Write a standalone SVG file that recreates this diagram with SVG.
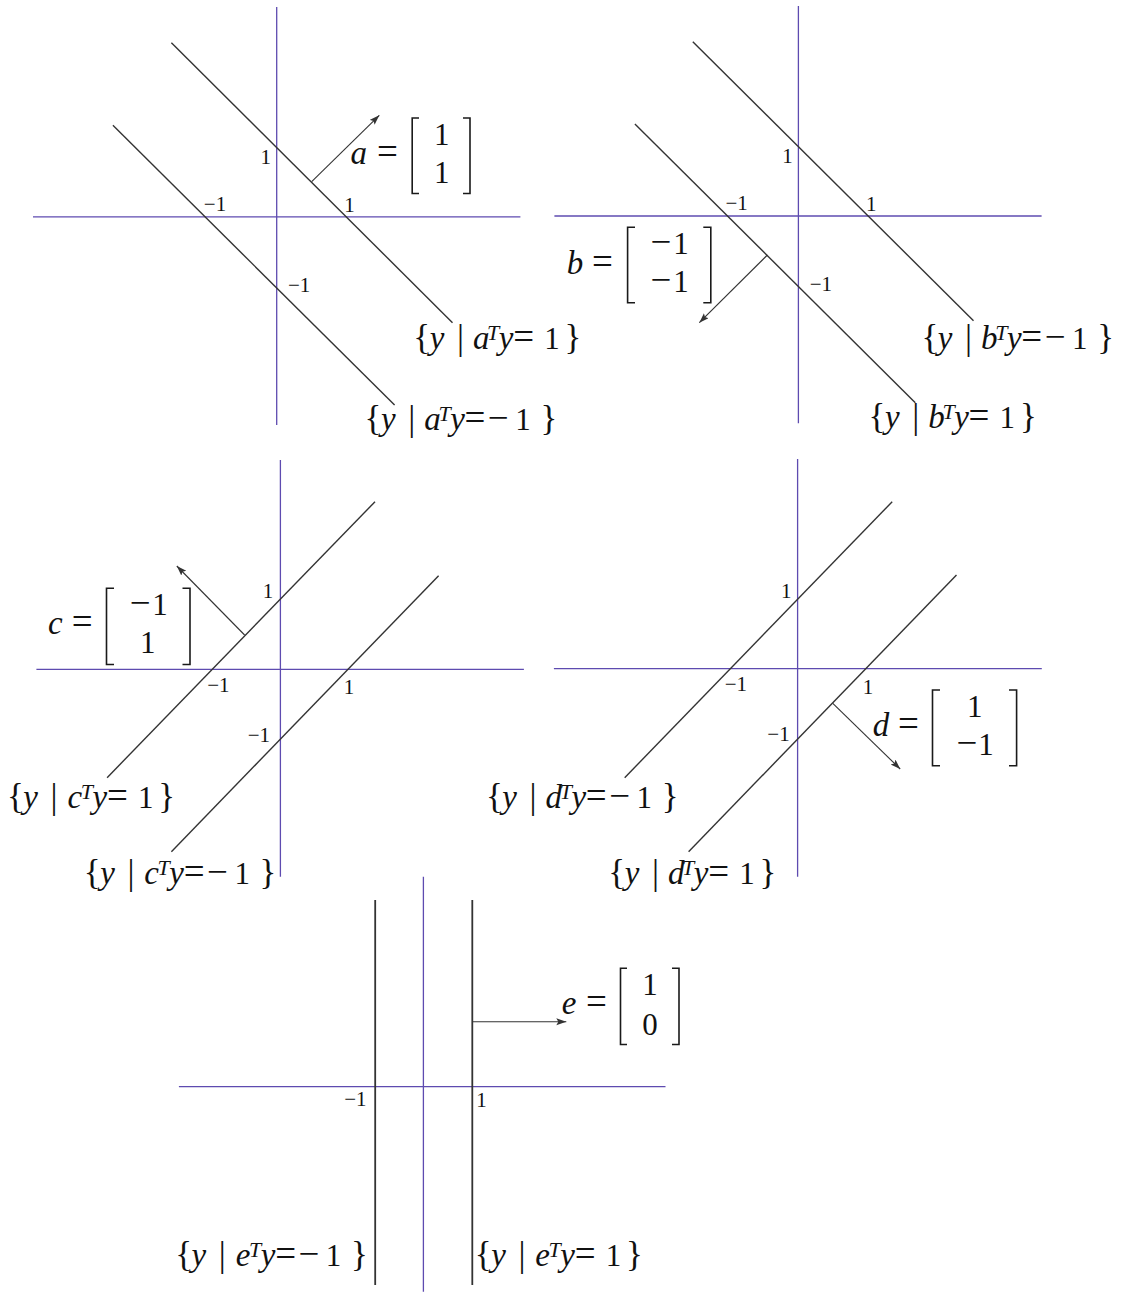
<svg xmlns="http://www.w3.org/2000/svg" width="1121" height="1292" viewBox="0 0 1121 1292">
<style>
.ax{stroke:#5e4bb0;stroke-width:1.3;fill:none}
.ln{stroke:#333;stroke-width:1.4;fill:none}
.lnE{stroke:#333;stroke-width:1.8;fill:none}
.ar{stroke:#333;stroke-width:1.1;fill:none;marker-end:url(#ah)}
.br{stroke:#1a1a1a;stroke-width:1.6;fill:none}
.m{font-family:"Liberation Serif","Times New Roman",serif;font-size:31px;fill:#111;text-anchor:middle}
.i{font-style:italic;font-size:33px}
.op{font-size:37px}
.bc{font-size:35px}
.sup{font-size:22px;font-style:italic}
.s{font-family:"Liberation Serif","Times New Roman",serif;font-size:21px;fill:#111;text-anchor:middle}
</style>
<defs>
<marker id="ah" markerWidth="11" markerHeight="8" refX="10" refY="3.5" orient="auto" markerUnits="userSpaceOnUse"><path d="M0,0 L10,3.5 L0,7 L2,3.5 z" fill="#333"/></marker>
</defs>
<rect width="1121" height="1292" fill="#fff"/>

<g id="connectors">
<line class="ax" x1="276.7" y1="7" x2="276.7" y2="425"/>
<line class="ax" x1="33" y1="216.8" x2="520.4" y2="216.8"/>
<line class="ln" x1="171.4" y1="42.7" x2="452.5" y2="322.7"/>
<line class="ln" x1="112.9" y1="125.3" x2="394.6" y2="405"/>
<line class="ar" x1="311.7" y1="181.7" x2="379.3" y2="115.3"/>
<line class="ax" x1="798.4" y1="6" x2="798.4" y2="423.3"/>
<line class="ax" x1="554.4" y1="216" x2="1041.6" y2="216"/>
<line class="ln" x1="692.8" y1="41.7" x2="973.5" y2="320.7"/>
<line class="ln" x1="634.9" y1="124" x2="915.3" y2="402.7"/>
<line class="ar" x1="767.4" y1="255" x2="699.3" y2="322.7"/>
<line class="ax" x1="280.4" y1="460" x2="280.4" y2="876.7"/>
<line class="ax" x1="36.4" y1="669.3" x2="523.9" y2="669.3"/>
<line class="ln" x1="107.1" y1="777.7" x2="375" y2="501.7"/>
<line class="ln" x1="171.4" y1="851.7" x2="438.6" y2="575.7"/>
<line class="ar" x1="244.6" y1="635" x2="176.8" y2="566"/>
<line class="ax" x1="797.6" y1="459" x2="797.6" y2="876.7"/>
<line class="ax" x1="553.9" y1="668.7" x2="1041.8" y2="668.7"/>
<line class="ln" x1="624.7" y1="777.7" x2="892.2" y2="501.7"/>
<line class="ln" x1="688.6" y1="851.7" x2="956.5" y2="575"/>
<line class="ar" x1="832.8" y1="703.3" x2="900.2" y2="769"/>
<line class="ax" x1="423.4" y1="876.7" x2="423.4" y2="1291.7"/>
<line class="ax" x1="178.9" y1="1086.7" x2="665.5" y2="1086.7"/>
<line class="lnE" x1="375.2" y1="900" x2="375.2" y2="1285"/>
<line class="lnE" x1="472.3" y1="900" x2="472.3" y2="1285"/>
<line class="ar" x1="472.3" y1="1021.7" x2="566.3" y2="1021.7"/>
</g>

<g id="panelA">
<text class="s" x="265.8" y="164">1</text>
<text class="s" x="215" y="211">−1</text>
<text class="s" x="349.5" y="211.5">1</text>
<text class="s" x="299.2" y="292">−1</text>
<text class="m" y="164"><tspan x="358.8" class="i">a</tspan><tspan x="387.5" class="op">=</tspan></text>
<polyline class="br" points="419,118 412.2,118 412.2,193.5 419,193.5"/>
<polyline class="br" points="463,118 470,118 470,193.5 463,193.5"/>
<text class="m" x="441.7" y="144.5">1</text>
<text class="m" x="441.7" y="182.5">1</text>
<text class="m" y="349"><tspan x="421.7" class="bc">{</tspan><tspan x="437" class="i">y</tspan><tspan x="460.4" class="bc">|</tspan><tspan x="481.2" class="i">a</tspan><tspan x="493.2" y="340" class="sup">T</tspan><tspan x="506.2" y="349" class="i">y</tspan><tspan x="523.7" class="op">=</tspan><tspan x="552">1</tspan><tspan x="573" class="bc">}</tspan></text>
<text class="m" y="430"><tspan x="373" class="bc">{</tspan><tspan x="388.3" class="i">y</tspan><tspan x="411.7" class="bc">|</tspan><tspan x="432.5" class="i">a</tspan><tspan x="444.5" y="421" class="sup">T</tspan><tspan x="457.5" y="430" class="i">y</tspan><tspan x="475" class="op">=</tspan><tspan x="498.3" class="op">−</tspan><tspan x="523">1</tspan><tspan x="548.8" class="bc">}</tspan></text>
</g>

<g id="panelB">
<text class="s" x="787.5" y="163">1</text>
<text class="s" x="736.7" y="210">−1</text>
<text class="s" x="871.2" y="210.7">1</text>
<text class="s" x="820.9" y="291">−1</text>
<text class="m" y="273.5"><tspan x="574.9" class="i">b</tspan><tspan x="602.5" class="op">=</tspan></text>
<polyline class="br" points="635,227.3 627.6,227.3 627.6,302.8 635,302.8"/>
<polyline class="br" points="703.3,227.3 710.8,227.3 710.8,302.8 703.3,302.8"/>
<text class="m" y="253.5"><tspan x="661" class="op">−</tspan><tspan x="681">1</tspan></text>
<text class="m" y="291.7"><tspan x="661" class="op">−</tspan><tspan x="681">1</tspan></text>
<text class="m" y="349"><tspan x="929.8" class="bc">{</tspan><tspan x="945.1" class="i">y</tspan><tspan x="968.5" class="bc">|</tspan><tspan x="989.3" class="i">b</tspan><tspan x="1001.3" y="340" class="sup">T</tspan><tspan x="1014.3" y="349" class="i">y</tspan><tspan x="1031.8" class="op">=</tspan><tspan x="1055.1" class="op">−</tspan><tspan x="1079.8">1</tspan><tspan x="1105.6" class="bc">}</tspan></text>
<text class="m" y="428"><tspan x="877" class="bc">{</tspan><tspan x="892.3" class="i">y</tspan><tspan x="915.7" class="bc">|</tspan><tspan x="936.5" class="i">b</tspan><tspan x="948.5" y="419" class="sup">T</tspan><tspan x="961.5" y="428" class="i">y</tspan><tspan x="979" class="op">=</tspan><tspan x="1007.3">1</tspan><tspan x="1028.3" class="bc">}</tspan></text>
</g>

<g id="panelC">
<text class="s" x="267.9" y="598">1</text>
<text class="s" x="218.4" y="692">−1</text>
<text class="s" x="349.1" y="694">1</text>
<text class="s" x="258.9" y="742">−1</text>
<text class="m" y="634.3"><tspan x="55.4" class="i">c</tspan><tspan x="82.1" class="op">=</tspan></text>
<polyline class="br" points="114,588.3 106.5,588.3 106.5,664.5 114,664.5"/>
<polyline class="br" points="182.5,588.3 190,588.3 190,664.5 182.5,664.5"/>
<text class="m" y="615"><tspan x="140.2" class="op">−</tspan><tspan x="160">1</tspan></text>
<text class="m" x="147.8" y="653">1</text>
<text class="m" y="808"><tspan x="15.4" class="bc">{</tspan><tspan x="30.7" class="i">y</tspan><tspan x="54.1" class="bc">|</tspan><tspan x="74.9" class="i">c</tspan><tspan x="86.9" y="799" class="sup">T</tspan><tspan x="99.9" y="808" class="i">y</tspan><tspan x="117.4" class="op">=</tspan><tspan x="145.7">1</tspan><tspan x="166.7" class="bc">}</tspan></text>
<text class="m" y="884"><tspan x="92.2" class="bc">{</tspan><tspan x="107.5" class="i">y</tspan><tspan x="130.9" class="bc">|</tspan><tspan x="151.7" class="i">c</tspan><tspan x="163.7" y="875" class="sup">T</tspan><tspan x="176.7" y="884" class="i">y</tspan><tspan x="194.2" class="op">=</tspan><tspan x="217.5" class="op">−</tspan><tspan x="242.2">1</tspan><tspan x="268" class="bc">}</tspan></text>
</g>

<g id="panelD">
<text class="s" x="786.2" y="598">1</text>
<text class="s" x="735.9" y="691">−1</text>
<text class="s" x="868" y="694">1</text>
<text class="s" x="778.5" y="741">−1</text>
<text class="m" y="736"><tspan x="880.9" class="i">d</tspan><tspan x="908.5" class="op">=</tspan></text>
<polyline class="br" points="940,690 932.5,690 932.5,765.7 940,765.7"/>
<polyline class="br" points="1009,690 1016.6,690 1016.6,765.7 1009,765.7"/>
<text class="m" x="974.7" y="716.7">1</text>
<text class="m" y="755"><tspan x="967" class="op">−</tspan><tspan x="986.1">1</tspan></text>
<text class="m" y="808"><tspan x="494.3" class="bc">{</tspan><tspan x="509.6" class="i">y</tspan><tspan x="533" class="bc">|</tspan><tspan x="553.8" class="i">d</tspan><tspan x="565.8" y="799" class="sup">T</tspan><tspan x="578.8" y="808" class="i">y</tspan><tspan x="596.3" class="op">=</tspan><tspan x="619.6" class="op">−</tspan><tspan x="644.3">1</tspan><tspan x="670.1" class="bc">}</tspan></text>
<text class="m" y="884"><tspan x="616.7" class="bc">{</tspan><tspan x="632" class="i">y</tspan><tspan x="655.4" class="bc">|</tspan><tspan x="676.2" class="i">d</tspan><tspan x="688.2" y="875" class="sup">T</tspan><tspan x="701.2" y="884" class="i">y</tspan><tspan x="718.7" class="op">=</tspan><tspan x="747">1</tspan><tspan x="768" class="bc">}</tspan></text>
</g>

<g id="panelE">
<text class="s" x="355.4" y="1106">−1</text>
<text class="s" x="481.5" y="1107">1</text>
<text class="m" y="1014"><tspan x="569" class="i">e</tspan><tspan x="596.5" class="op">=</tspan></text>
<polyline class="br" points="627,968.3 620.5,968.3 620.5,1044.5 627,1044.5"/>
<polyline class="br" points="672,968.3 679,968.3 679,1044.5 672,1044.5"/>
<text class="m" x="649.9" y="995">1</text>
<text class="m" x="649.9" y="1035">0</text>
<text class="m" y="1266"><tspan x="183.6" class="bc">{</tspan><tspan x="198.9" class="i">y</tspan><tspan x="222.3" class="bc">|</tspan><tspan x="243.1" class="i">e</tspan><tspan x="255.1" y="1257" class="sup">T</tspan><tspan x="268.1" y="1266" class="i">y</tspan><tspan x="285.6" class="op">=</tspan><tspan x="308.9" class="op">−</tspan><tspan x="333.6">1</tspan><tspan x="359.4" class="bc">}</tspan></text>
<text class="m" y="1266"><tspan x="483.2" class="bc">{</tspan><tspan x="498.5" class="i">y</tspan><tspan x="521.9" class="bc">|</tspan><tspan x="542.7" class="i">e</tspan><tspan x="554.7" y="1257" class="sup">T</tspan><tspan x="567.7" y="1266" class="i">y</tspan><tspan x="585.2" class="op">=</tspan><tspan x="613.5">1</tspan><tspan x="634.5" class="bc">}</tspan></text>
</g>
</svg>
